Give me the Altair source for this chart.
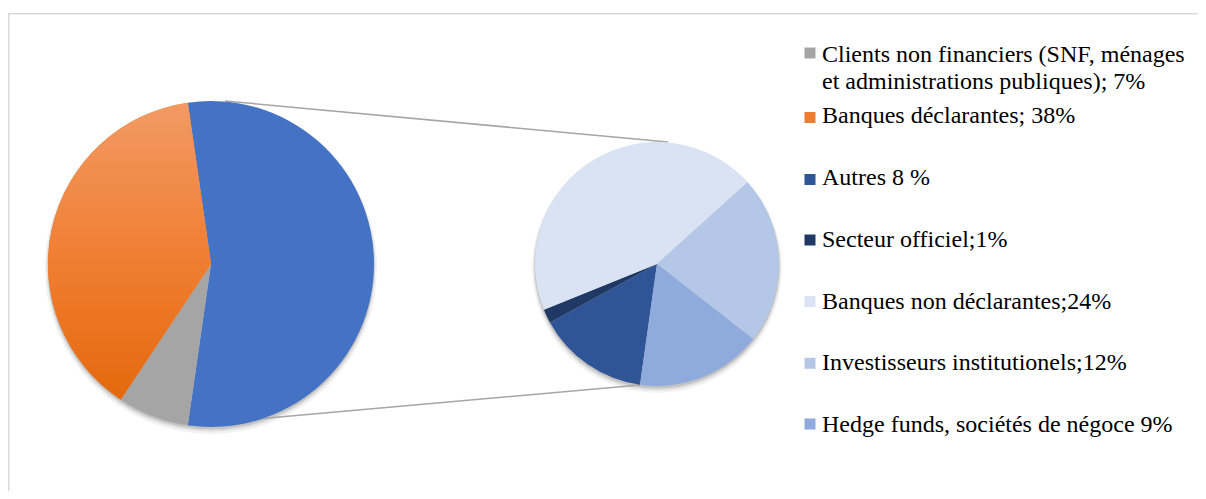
import math
import altair as alt
import pandas as pd

# ---------------- data ----------------
left_labels = ["Autres (détail)", "Clients non financiers", "Banques déclarantes"]
left_colors = ["#4472C4", "#A5A5A5", "#ED7D31"]

right_labels = ["Autres", "Secteur officiel", "Banques non déclarantes",
                "Investisseurs institutionels", "Hedge funds, sociétés de négoce"]
right_values = [8, 1, 24, 12, 9]
right_colors = ["#2F5597", "#203864", "#DAE3F3", "#B4C7E7", "#8FAADC"]

left_values = [sum(right_values), 7, 38]

legend_texts = [
    "Clients non financiers (SNF, ménages\net administrations publiques); 7%",
    "Banques déclarantes; 38%",
    "Autres 8 %",
    "Secteur officiel;1%",
    "Banques non déclarantes;24%",
    "Investisseurs institutionels;12%",
    "Hedge funds, sociétés de négoce 9%",
]
legend_colors = ["#A5A5A5", "#ED7D31", "#2F5597", "#203864", "#DAE3F3", "#B4C7E7", "#8FAADC"]

# ---------------- layout ----------------
W, H = 1190, 483
LCX, LCY, LR = 203, 256, 163
RCX, RCY, RR = 649, 256, 122
left_start = math.radians(90 - 180 * left_values[0] / sum(left_values))
right_start = math.radians(188)
legend_sq_y = [45, 109.5, 171.5, 232, 293.5, 355.3, 416]
legend_tx_y = [53.7, 114.7, 177, 238.7, 301.3, 362, 423.7]
FONT = "Liberation Serif"


def pie_table(labels, values, colors):
    rows, cum = [], 0
    for lab, v, c in zip(labels, values, colors):
        rows.append({"cat": lab, "value": v, "start": cum, "end": cum + v, "color": c})
        cum += v
    return pd.DataFrame(rows)


left_df = pie_table(left_labels, left_values, left_colors)
right_df = pie_table(right_labels, right_values, right_colors)
legend_df = pd.DataFrame({"text": legend_texts, "color": legend_colors,
                          "sy": legend_sq_y, "ty": legend_tx_y})


def pie_layer(df, start, cx, cy, r, color=None, flt=None):
    total = float(df["value"].sum())
    theta_scale = alt.Scale(domain=[0, total], range=[start, start + 2 * math.pi])
    base = alt.Chart(df)
    if flt is not None:
        base = base.transform_filter(flt)
    if color is None:
        mk = base.mark_arc(radius=r)
        col = alt.Color("color:N", scale=None)
    else:
        mk = base.mark_arc(radius=r, color=color)
        col = None
    enc = dict(
        theta=alt.Theta("start:Q", scale=theta_scale, stack=None),
        theta2="end:Q",
        x=alt.value(cx),
        y=alt.value(cy),
    )
    if col is not None:
        enc["color"] = col
    return mk.encode(**enc)


def shadow(cx, cy, r, dy, extra, op):
    return alt.Chart(pd.DataFrame({"a": [0]})).mark_arc(
        radius=r + extra, color="#000000", opacity=op
    ).encode(theta=alt.value(0), theta2=alt.value(2 * math.pi),
             x=alt.value(cx), y=alt.value(cy + dy))


orange_grad = alt.Gradient(
    gradient="linear",
    stops=[alt.GradientStop(color="#F29A64", offset=0),
           alt.GradientStop(color="#F07D30", offset=0.55),
           alt.GradientStop(color="#E4690D", offset=1)],
    x1=0, x2=0, y1=0, y2=1,
)

border = alt.Chart(pd.DataFrame({"a": [0]})).mark_rect(
    fill="white", stroke="#D9D9D9", strokeWidth=1.5
).encode(x=alt.value(0.75), x2=alt.value(1205), y=alt.value(5.75), y2=alt.value(520))

connectors = alt.Chart(pd.DataFrame({"a": [0]})).mark_rule(
    color="#A6A6A6", strokeWidth=1.5
)
conn_top = connectors.encode(x=alt.value(217), y=alt.value(93), x2=alt.value(660), y2=alt.value(134))
conn_bot = connectors.encode(x=alt.value(181), y=alt.value(417), x2=alt.value(632), y2=alt.value(377))

layers = [border]
for (cx, cy, r) in [(LCX, LCY, LR), (RCX, RCY, RR)]:
    layers += [shadow(cx, cy, r, 4, 3, 0.05), shadow(cx, cy, r, 3, 1.5, 0.08), shadow(cx, cy, r, 2, 0.5, 0.12)]
layers += [
    conn_top, conn_bot,
    pie_layer(left_df, left_start, LCX, LCY, LR),
    pie_layer(left_df, left_start, LCX, LCY, LR, color=orange_grad,
              flt=alt.datum.cat == "Banques déclarantes"),
    pie_layer(right_df, right_start, RCX, RCY, RR),
]

leg_sq = alt.Chart(legend_df).mark_square(size=121, opacity=1).encode(
    x=alt.value(802),
    y=alt.Y("sy:Q", scale=None),
    color=alt.Color("color:N", scale=None),
)
leg_tx = alt.Chart(legend_df).mark_text(
    align="left", baseline="alphabetic", font=FONT, fontSize=24,
    color="#000000", lineBreak="\n", lineHeight=27.6,
).encode(x=alt.value(814), y=alt.Y("ty:Q", scale=None), text="text:N")
layers += [leg_sq, leg_tx]

chart = alt.layer(*layers).resolve_scale(theta="independent", color="independent").properties(
    width=W, height=H, padding=0, autosize="none",
).configure_view(stroke=None)

chart.save("out.html", embed_options={"renderer": "svg", "actions": False})
